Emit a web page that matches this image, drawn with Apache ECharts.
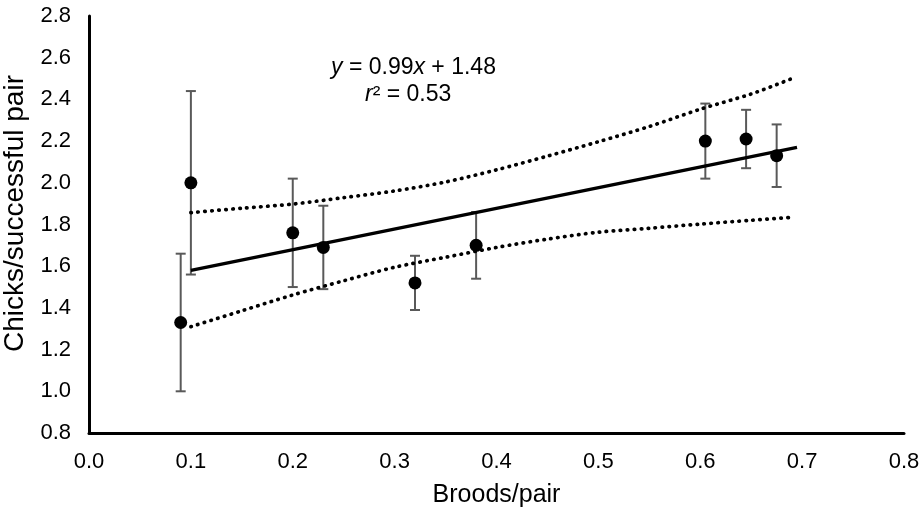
<!DOCTYPE html>
<html>
<head>
<meta charset="utf-8">
<script src="https://cdn.jsdelivr.net/npm/echarts@6/dist/echarts.min.js"></script>
<style>
  html, body { margin: 0; padding: 0; background: #fff; }
  #chart { width: 919px; height: 510px; }
</style>
</head>
<body>
<div id="chart"></div>
<script>
// broods per pair (x) and chicks per successful pair (y)
var broods = [0.09, 0.1, 0.2, 0.23, 0.32, 0.38, 0.605, 0.645, 0.675];
var chicks = [1.33, 2.0, 1.76, 1.69, 1.52, 1.70, 2.20, 2.21, 2.13];
var errLow = [1.0, 1.56, 1.50, 1.49, 1.39, 1.54, 2.02, 2.07, 1.98];
var errHigh = [1.66, 2.44, 2.02, 1.89, 1.65, 1.86, 2.38, 2.35, 2.28];

// fitted line ends and confidence band
var fitX = [0.1, 0.695];
var fitY = [1.58, 2.17];
var bandX = [0.1, 0.15, 0.2, 0.25, 0.3, 0.35, 0.4, 0.45, 0.5, 0.55, 0.6, 0.65, 0.69];
var bandUpper = [1.857, 1.878, 1.898, 1.929, 1.961, 2.004, 2.062, 2.128, 2.197, 2.27, 2.353, 2.426, 2.50];
var bandLower = [1.31, 1.386, 1.462, 1.53, 1.595, 1.643, 1.69, 1.73, 1.763, 1.782, 1.802, 1.82, 1.834];

var xTicks = { min: 0, max: 0.8, interval: 0.1 };
var yTicks = { min: 0.8, max: 2.8, interval: 0.2 };

var font = 'Liberation Sans, Arial, sans-serif';

function pairs(xs, ys) {
  return xs.map(function (x, i) { return [x, ys[i]]; });
}

var myChart = echarts.init(document.getElementById('chart'));

var dotted = { color: '#000', width: 3.7, type: [0.5, 6.5], cap: 'round' };

var option = {
  animation: false,
  grid: { left: 89, right: 15, top: 16, bottom: 77, outerBoundsMode: 'none' },
  xAxis: {
    type: 'value',
    min: xTicks.min,
    max: xTicks.max,
    interval: xTicks.interval,
    name: 'Broods/pair',
    nameLocation: 'middle',
    nameGap: 50,
    nameTextStyle: { fontFamily: font, fontSize: 25, color: '#000' },
    axisLine: { lineStyle: { color: '#000', width: 3 } },
    axisTick: { show: false },
    splitLine: { show: false },
    axisLabel: {
      fontFamily: font, fontSize: 22, color: '#000', margin: 18,
      formatter: function (v) { return v.toFixed(1); }
    }
  },
  yAxis: {
    type: 'value',
    min: yTicks.min,
    max: yTicks.max,
    interval: yTicks.interval,
    name: 'Chicks/successful pair',
    nameLocation: 'middle',
    nameGap: 58,
    nameTextStyle: { fontFamily: font, fontSize: 28, color: '#000', padding: [0, 0, 0, 22] },
    axisLine: { lineStyle: { color: '#000', width: 3 } },
    axisTick: { show: false },
    splitLine: { show: false },
    axisLabel: {
      fontFamily: font, fontSize: 22, color: '#000', margin: 18,
      formatter: function (v) { return v.toFixed(1); }
    }
  },
  graphic: [
    {
      type: 'text', left: 331, top: 56,
      style: {
        text: '{i|y} = 0.99{i|x} + 1.48',
        font: '23px ' + font,
        fill: '#000',
        rich: { i: { fontStyle: 'italic', fontSize: 23, fontFamily: font } }
      }
    },
    {
      type: 'text', left: 365, top: 83,
      style: {
        text: '{i|r}² = 0.53',
        font: '23px ' + font,
        fill: '#000',
        rich: { i: { fontStyle: 'italic', fontSize: 23, fontFamily: font } }
      }
    }
  ],
  series: [
    {
      type: 'custom',
      data: broods.map(function (x, i) { return [x, errLow[i], errHigh[i]]; }),
      renderItem: function (params, api) {
        var lo = api.coord([api.value(0), api.value(1)]);
        var hi = api.coord([api.value(0), api.value(2)]);
        var w = 5;
        var st = { stroke: '#595959', lineWidth: 2 };
        return {
          type: 'group',
          children: [
            { type: 'line', shape: { x1: lo[0], y1: lo[1], x2: hi[0], y2: hi[1] }, style: st },
            { type: 'line', shape: { x1: lo[0] - w, y1: lo[1], x2: lo[0] + w, y2: lo[1] }, style: st },
            { type: 'line', shape: { x1: hi[0] - w, y1: hi[1], x2: hi[0] + w, y2: hi[1] }, style: st }
          ]
        };
      },
      z: 1
    },
    {
      type: 'line',
      data: pairs(bandX, bandUpper),
      smooth: 0.3,
      symbol: 'none',
      lineStyle: dotted,
      z: 2
    },
    {
      type: 'line',
      data: pairs(bandX, bandLower),
      smooth: 0.3,
      symbol: 'none',
      lineStyle: dotted,
      z: 2
    },
    {
      type: 'line',
      data: pairs(fitX, fitY),
      symbol: 'none',
      lineStyle: { color: '#000', width: 3.5 },
      z: 3
    },
    {
      type: 'scatter',
      data: pairs(broods, chicks),
      symbol: 'circle',
      symbolSize: 13,
      itemStyle: { color: '#000', opacity: 1 },
      z: 4
    }
  ]
};

myChart.setOption(option);
</script>
</body>
</html>
